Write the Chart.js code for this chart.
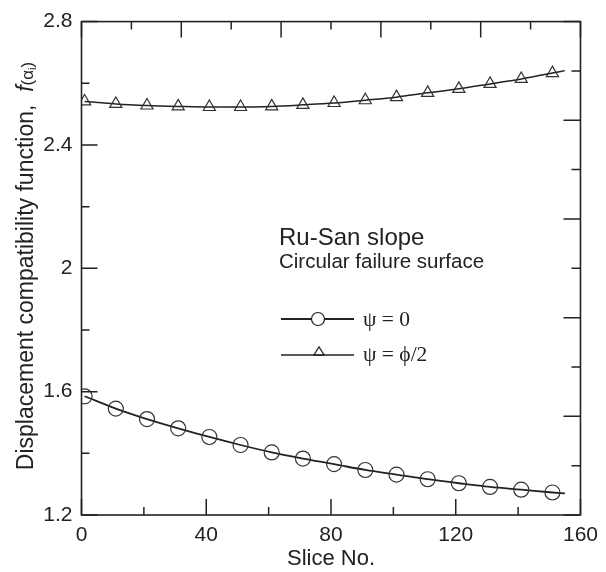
<!DOCTYPE html>
<html>
<head>
<meta charset="utf-8">
<script src="https://cdn.jsdelivr.net/npm/chart.js@4.4.1/dist/chart.umd.min.js"></script>
<style>
  html, body { margin: 0; padding: 0; background: #fff; }
  #wrap { width: 606px; height: 572px; }
</style>
</head>
<body>
<div id="wrap"><canvas id="c" width="606" height="572"></canvas></div>
<script>
// ---- data ----
const sliceNo = [1, 11, 21, 31, 41, 51, 61, 71, 81, 91, 101, 111, 121, 131, 141, 151];
const psiZero = [1.585, 1.545, 1.511, 1.481, 1.453, 1.427, 1.403, 1.383, 1.365, 1.346, 1.331, 1.316, 1.303, 1.291, 1.282, 1.273];
const psiHalfPhi = [2.541, 2.533, 2.528, 2.525, 2.523, 2.523, 2.525, 2.530, 2.536, 2.545, 2.555, 2.569, 2.582, 2.598, 2.614, 2.633];
const curveEndX = 155;
const psiZeroEnd = 1.270;
const psiHalfPhiEnd = 2.641;
const xTickValues = [0, 40, 80, 120, 160];
const xMinorValues = [0, 20, 40, 60, 80, 100, 120, 140, 160];
const yTickValues = [1.2, 1.6, 2, 2.4, 2.8];
const yMinorValues = [1.2, 1.4, 1.6, 1.8, 2.0, 2.2, 2.4, 2.6, 2.8];
const yTickLabels = ['1.2', '1.6', '2', '2.4', '2.8'];
const secondaryTicks = [0, 1, 2, 3, 4, 5, 6, 7, 8, 9, 10];
const seriesLabels = ['\u03C8 = 0', '\u03C8 = \u03D5/2'];
const noteLines = ['Ru-San slope', 'Circular failure surface'];

const INK = '#222';
const SANS = '"Liberation Sans", Arial, sans-serif';
const SERIF = '"Liberation Serif", "Times New Roman", "DejaVu Serif", serif';

function pts(xs, ys, ex, ey) {
  const a = xs.map((x, i) => ({ x: x, y: ys[i] }));
  a.push({ x: ex, y: ey });
  return a;
}

const frameAndTicks = {
  id: 'frameAndTicks',
  afterDatasetsDraw(chart) {
    const ctx = chart.ctx;
    const a = chart.chartArea;
    const sx = chart.scales.x, sy = chart.scales.y, sx2 = chart.scales.x2, sy2 = chart.scales.y2;
    const MAJ = 16, MIN = 8;
    ctx.save();
    ctx.strokeStyle = INK;
    ctx.lineWidth = 1.5;
    ctx.beginPath();
    xMinorValues.forEach(v => {
      const px = sx.getPixelForValue(v);
      const L = xTickValues.includes(v) ? MAJ : MIN;
      ctx.moveTo(px, a.bottom); ctx.lineTo(px, a.bottom - L);
    });
    yMinorValues.forEach((v, i) => {
      const py = sy.getPixelForValue(v);
      const L = i % 2 === 0 ? MAJ : MIN;
      ctx.moveTo(a.left, py); ctx.lineTo(a.left + L, py);
    });
    secondaryTicks.forEach(v => {
      const px = sx2.getPixelForValue(v);
      const L = v % 2 === 0 ? MAJ : MIN;
      ctx.moveTo(px, a.top); ctx.lineTo(px, a.top + L);
      const py = sy2.getPixelForValue(v);
      const L2 = v % 2 === 0 ? MAJ + 1 : MIN + 1;
      ctx.moveTo(a.right, py); ctx.lineTo(a.right - L2, py);
    });
    ctx.stroke();
    ctx.lineWidth = 1.6;
    ctx.strokeRect(a.left, a.top, a.right - a.left, a.bottom - a.top);
    ctx.restore();
  }
};

function drawTri(ctx, x, y, r) {
  const h = r * 1.5;
  ctx.beginPath();
  ctx.moveTo(x, y - h * 0.62);
  ctx.lineTo(x + r * 0.95, y + h * 0.38);
  ctx.lineTo(x - r * 0.95, y + h * 0.38);
  ctx.closePath(); ctx.stroke();
}

const annotations = {
  id: 'annotations',
  afterDraw(chart) {
    const ctx = chart.ctx;
    ctx.save();
    ctx.fillStyle = INK;
    ctx.textAlign = 'left';
    ctx.textBaseline = 'alphabetic';
    ctx.font = '24px ' + SANS;
    ctx.fillText(noteLines[0], 279, 245);
    ctx.font = '20.5px ' + SANS;
    ctx.fillText(noteLines[1], 279, 268);

    // legend
    ctx.strokeStyle = INK;
    ctx.lineWidth = 2;
    ctx.beginPath(); ctx.moveTo(281, 319); ctx.lineTo(354, 319); ctx.stroke();
    ctx.lineWidth = 1.2;
    ctx.fillStyle = '#fff';
    ctx.beginPath(); ctx.arc(318, 319, 6.5, 0, Math.PI * 2); ctx.fill(); ctx.stroke();
    ctx.lineWidth = 1.4;
    ctx.beginPath(); ctx.moveTo(281, 355); ctx.lineTo(354, 355); ctx.stroke();
    ctx.lineWidth = 1.2;
    drawTri(ctx, 319, 352, 5.5);
    ctx.fillStyle = INK;
    ctx.font = '21.5px ' + SERIF;
    ctx.textBaseline = 'middle';
    ctx.fillText(seriesLabels[0], 363, 320);
    ctx.fillText(seriesLabels[1], 363, 355);

    // y-axis title (rotated, mixed fonts)
    ctx.save();
    ctx.translate(33, 266);
    ctx.rotate(-Math.PI / 2);
    ctx.textBaseline = 'alphabetic';
    const parts = [
      { t: 'Displacement compatibility function,  ', f: '23px ' + SANS, dy: 0 },
      { t: 'f', f: 'italic 23px ' + SANS, dy: 0 },
      { t: '(\u03B1', f: '17px ' + SANS, dy: 0 },
      { t: 'i', f: '11px ' + SANS, dy: 3 },
      { t: ')', f: '17px ' + SANS, dy: 0 }
    ];
    let total = 0;
    parts.forEach(p => { ctx.font = p.f; p.w = ctx.measureText(p.t).width; total += p.w; });
    let cx = -total / 2;
    parts.forEach(p => { ctx.font = p.f; ctx.fillText(p.t, cx, p.dy); cx += p.w; });
    ctx.restore();
    ctx.restore();
  }
};

const chart = new Chart(document.getElementById('c'), {
  type: 'line',
  data: {
    datasets: [
      {
        label: seriesLabels[0],
        data: pts(sliceNo, psiZero, curveEndX, psiZeroEnd),
        borderColor: INK,
        borderWidth: 1.8,
        backgroundColor: 'rgba(0,0,0,0)',
        pointStyle: 'circle',
        pointRadius: c => (c.dataIndex < sliceNo.length ? 7.5 : 0),
        pointBorderWidth: 1.2,
        pointBorderColor: '#333',
        pointBackgroundColor: 'rgba(0,0,0,0)',
        cubicInterpolationMode: 'monotone',
        fill: false
      },
      {
        label: seriesLabels[1],
        data: pts(sliceNo, psiHalfPhi, curveEndX, psiHalfPhiEnd),
        borderColor: INK,
        borderWidth: 1.5,
        backgroundColor: 'rgba(0,0,0,0)',
        pointStyle: 'triangle',
        pointRadius: c => (c.dataIndex < sliceNo.length ? 7 : 0),
        pointBorderWidth: 1.2,
        pointBorderColor: '#333',
        pointBackgroundColor: 'rgba(0,0,0,0)',
        cubicInterpolationMode: 'monotone',
        fill: false
      }
    ]
  },
  options: {
    responsive: false,
    animation: false,
    layout: { padding: 0 },
    plugins: { legend: { display: false }, tooltip: { enabled: false } },
    scales: {
      x: {
        type: 'linear', position: 'bottom', min: 0, max: 160,
        afterBuildTicks: s => { s.ticks = xTickValues.map(v => ({ value: v })); },
        afterFit: s => { s.height = 57; },
        grid: { display: false, drawTicks: false },
        border: { display: false },
        ticks: { color: INK, font: { family: SANS, size: 21 }, padding: 8, maxRotation: 0, autoSkip: false },
        title: { display: true, text: 'Slice No.', color: INK, font: { family: SANS, size: 22 }, padding: { top: 0, bottom: 0 } }
      },
      y: {
        type: 'linear', position: 'left', min: 1.2, max: 2.8,
        afterBuildTicks: s => { s.ticks = yTickValues.map(v => ({ value: v })); },
        afterFit: s => { s.width = 81.5; },
        grid: { display: false, drawTicks: false },
        border: { display: false },
        ticks: {
          color: INK, font: { family: SANS, size: 21 }, padding: 9, autoSkip: false,
          callback: v => { const i = yTickValues.indexOf(v); return i >= 0 ? yTickLabels[i] : ''; }
        }
      },
      x2: {
        type: 'linear', position: 'top', min: 0, max: 10,
        afterFit: s => { s.height = 19; },
        grid: { display: false, drawTicks: false }, border: { display: false },
        ticks: { display: false }
      },
      y2: {
        type: 'linear', position: 'right', min: 0, max: 10,
        afterFit: s => { s.width = 24; },
        grid: { display: false, drawTicks: false }, border: { display: false },
        ticks: { display: false }
      }
    }
  },
  plugins: [frameAndTicks, annotations]
});
</script>
</body>
</html>
